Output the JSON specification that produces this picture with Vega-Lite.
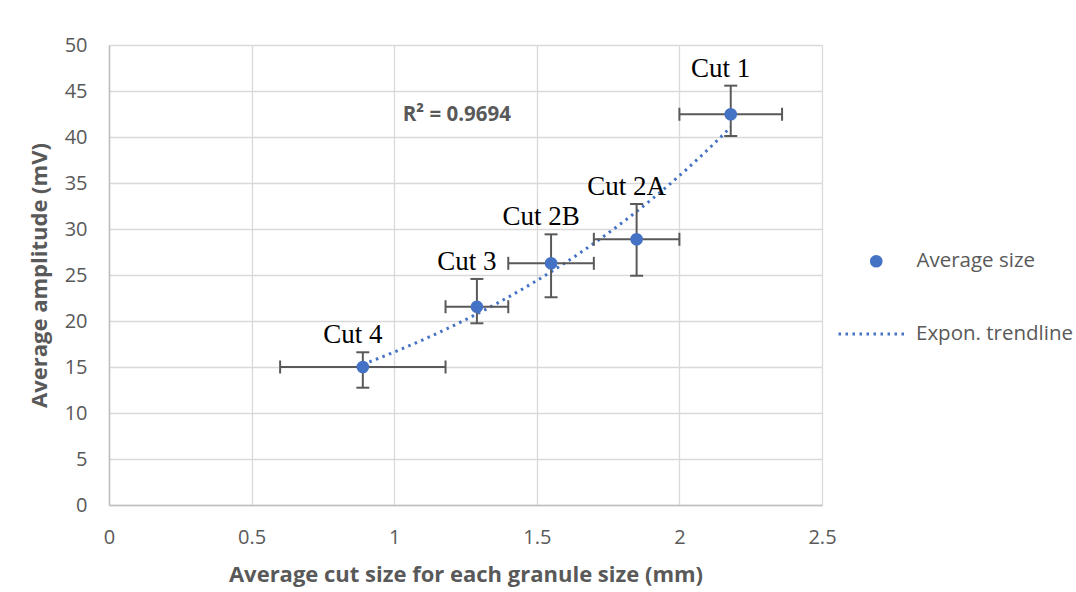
{
  "$schema": "https://vega.github.io/schema/vega-lite/v6.json",
  "width": 713,
  "height": 460,
  "autosize": {"type": "none"},
  "padding": {"left": 109, "top": 45, "right": 254, "bottom": 87},
  "background": "white",
  "data": {
    "values": [
      {"cut": "Cut 4", "x": 0.89, "y": 15.0, "xlo": 0.60, "xhi": 1.18, "ylo": 12.75, "yhi": 16.6},
      {"cut": "Cut 3", "x": 1.29, "y": 21.55, "xlo": 1.18, "xhi": 1.40, "ylo": 19.75, "yhi": 24.57},
      {"cut": "Cut 2B", "x": 1.55, "y": 26.27, "xlo": 1.40, "xhi": 1.70, "ylo": 22.58, "yhi": 29.42},
      {"cut": "Cut 2A", "x": 1.85, "y": 28.88, "xlo": 1.70, "xhi": 2.00, "ylo": 24.92, "yhi": 32.72},
      {"cut": "Cut 1", "x": 2.18, "y": 42.47, "xlo": 2.00, "xhi": 2.36, "ylo": 40.11, "yhi": 45.58}
    ]
  },
  "layer": [
    {
      "transform": [{"regression": "y", "on": "x", "method": "exp"}],
      "mark": {"type": "line", "color": "#4472C4", "strokeWidth": 3},
      "encoding": {
        "x": {
          "field": "x", "type": "quantitative",
          "scale": {"domain": [0, 2.5], "nice": false, "zero": false},
          "axis": {
            "title": "Average cut size for each granule size (mm)",
            "values": [0, 0.5, 1, 1.5, 2, 2.5],
            "format": "~g",
            "labelFlush": false,
            "labelPadding": 22,
            "titlePadding": 17
          }
        },
        "y": {
          "field": "y", "type": "quantitative",
          "scale": {"domain": [0, 50], "nice": false},
          "axis": {
            "title": "Average amplitude (mV)",
            "values": [0, 5, 10, 15, 20, 25, 30, 35, 40, 45, 50],
            "labelPadding": 22,
            "titlePadding": 13
          }
        },
        "strokeDash": {
          "datum": "Expon. trendline",
          "scale": {"range": [[2.5, 4.5]]},
          "legend": {
            "orient": "none", "legendX": 728, "legendY": 253, "title": null,
            "symbolType": "stroke", "symbolSize": 4761,
            "symbolStrokeColor": "#4472C4", "symbolStrokeWidth": 3, "symbolDash": [2.5, 4.5],
            "labelOffset": 7, "labelFont": "Open Sans", "labelFontSize": 20.5, "labelColor": "#595959"
          }
        }
      }
    },
    {
      "mark": {"type": "rule", "color": "#595959", "strokeWidth": 2},
      "encoding": {
        "x": {"field": "xlo", "type": "quantitative", "title": "Average cut size for each granule size (mm)"},
        "x2": {"field": "xhi"},
        "y": {"field": "y", "type": "quantitative", "title": "Average amplitude (mV)"}
      }
    },
    {
      "mark": {"type": "rule", "color": "#595959", "strokeWidth": 2},
      "encoding": {
        "x": {"field": "x", "type": "quantitative", "title": "Average cut size for each granule size (mm)"},
        "y": {"field": "ylo", "type": "quantitative", "title": "Average amplitude (mV)"},
        "y2": {"field": "yhi"}
      }
    },
    {
      "mark": {"type": "tick", "orient": "vertical", "color": "#595959", "size": 13, "thickness": 2, "opacity": 1},
      "encoding": {
        "x": {"field": "xlo", "type": "quantitative", "title": "Average cut size for each granule size (mm)"},
        "y": {"field": "y", "type": "quantitative", "title": "Average amplitude (mV)"}
      }
    },
    {
      "mark": {"type": "tick", "orient": "vertical", "color": "#595959", "size": 13, "thickness": 2, "opacity": 1},
      "encoding": {
        "x": {"field": "xhi", "type": "quantitative", "title": "Average cut size for each granule size (mm)"},
        "y": {"field": "y", "type": "quantitative", "title": "Average amplitude (mV)"}
      }
    },
    {
      "mark": {"type": "tick", "orient": "horizontal", "color": "#595959", "size": 13, "thickness": 2, "opacity": 1},
      "encoding": {
        "x": {"field": "x", "type": "quantitative", "title": "Average cut size for each granule size (mm)"},
        "y": {"field": "ylo", "type": "quantitative", "title": "Average amplitude (mV)"}
      }
    },
    {
      "mark": {"type": "tick", "orient": "horizontal", "color": "#595959", "size": 13, "thickness": 2, "opacity": 1},
      "encoding": {
        "x": {"field": "x", "type": "quantitative", "title": "Average cut size for each granule size (mm)"},
        "y": {"field": "yhi", "type": "quantitative", "title": "Average amplitude (mV)"}
      }
    },
    {
      "mark": {"type": "point", "filled": true, "color": "#4472C4", "size": 160, "opacity": 1},
      "encoding": {
        "x": {"field": "x", "type": "quantitative", "title": "Average cut size for each granule size (mm)"},
        "y": {"field": "y", "type": "quantitative", "title": "Average amplitude (mV)"},
        "shape": {
          "datum": "Average size",
          "scale": {"range": ["circle"]},
          "legend": {
            "orient": "none", "legendX": 757, "legendY": 206, "title": null,
            "symbolSize": 160, "symbolFillColor": "#4472C4", "symbolStrokeWidth": 0, "symbolOpacity": 1,
            "labelOffset": 30, "labelFont": "Open Sans", "labelFontSize": 20.5, "labelColor": "#595959"
          }
        }
      }
    },
    {
      "mark": {"type": "text", "font": "Liberation Serif", "fontSize": 27, "color": "black", "baseline": "alphabetic", "align": "center", "dx": -10, "dy": -9},
      "encoding": {
        "x": {"field": "x", "type": "quantitative", "title": "Average cut size for each granule size (mm)"},
        "y": {"field": "yhi", "type": "quantitative", "title": "Average amplitude (mV)"},
        "text": {"field": "cut"}
      }
    },
    {
      "data": {"values": [{"label": "R² = 0.9694", "x": 1.03, "y": 42.4}]},
      "mark": {"type": "text", "font": "Open Sans", "fontSize": 20.5, "fontWeight": "bold", "color": "#595959", "align": "left", "baseline": "middle"},
      "encoding": {
        "x": {"field": "x", "type": "quantitative", "title": "Average cut size for each granule size (mm)"},
        "y": {"field": "y", "type": "quantitative", "title": "Average amplitude (mV)"},
        "text": {"field": "label"}
      }
    }
  ],
  "config": {
    "font": "Open Sans",
    "view": {"stroke": null},
    "axis": {
      "labelFont": "Open Sans", "labelFontSize": 20, "labelColor": "#595959",
      "titleFont": "Open Sans", "titleFontSize": 22, "titleFontWeight": "bold", "titleColor": "#595959",
      "gridColor": "#d9d9d9", "gridWidth": 1.3,
      "domainColor": "#bfbfbf", "domainWidth": 1.5,
      "ticks": false, "tickSize": 0
    }
  }
}
